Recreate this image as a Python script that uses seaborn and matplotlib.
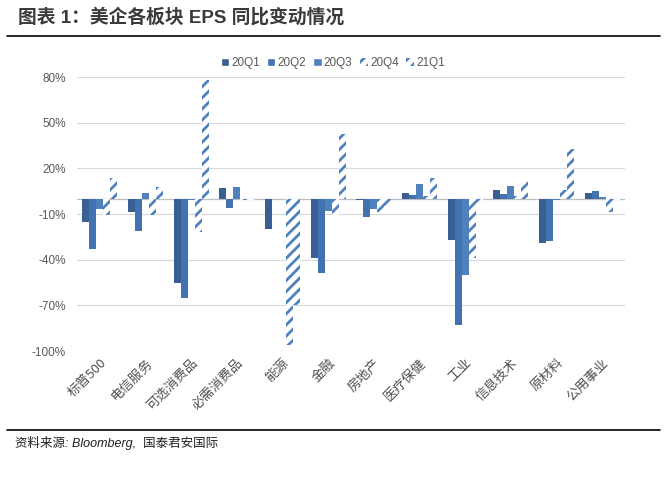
import matplotlib
matplotlib.use('Agg')
import matplotlib.pyplot as plt
import matplotlib.ticker as mtick
from matplotlib.patches import Patch
import pandas as pd
import seaborn as sns

# Данные графика
sectors = ['标普500', '电信服务', '可选消费品', '必需消费品', '能源', '金融',
           '房地产', '医疗保健', '工业', '信息技术', '原材料', '公用事业']
quarters = ['20Q1', '20Q2', '20Q3', '20Q4', '21Q1']
eps_20q1 = [-15, -9, -55, 7, -20, -39, -0.5, 4, -27, 6, -29, 4]
eps_20q2 = [-33, -21, -65, -6, 0, -49, -12, 2.5, -83, 3, -28, 5]
eps_20q3 = [-7, 4, -1, 7.5, 0, -8, -7, 10, -50, 8.5, -1, 1]
eps_20q4 = [-10.5, -10.5, -22, -1, -96, -10.5, -9, 2, -39, 2, 6, -8.5]
eps_21q1 = [13.5, 7.5, 78, -0.5, -70, 42.5, -5, 13.5, -3, 11.5, 33, -1]
y_ticks = [-100, -70, -40, -10, 20, 50, 80]

colors = ['#395F93', '#4372B0', '#4F81BD', '#4F81BD', '#4F81BD']
latin_cjk = ['Liberation Sans', 'Noto Sans CJK SC']

df = pd.DataFrame({'sector': sectors, '20Q1': eps_20q1, '20Q2': eps_20q2,
                   '20Q3': eps_20q3, '20Q4': eps_20q4, '21Q1': eps_21q1})
long_df = df.melt(id_vars='sector', var_name='quarter', value_name='eps')

sns.set_style('white')
plt.rcParams['font.family'] = ['Noto Sans CJK SC', 'DejaVu Sans']
plt.rcParams['hatch.linewidth'] = 2.0

fig = plt.figure(figsize=(6.66, 4.88), dpi=100)
ax = fig.add_axes([0.1156, 0.2807, 0.8228, 0.5615])

sns.barplot(data=long_df, x='sector', y='eps', hue='quarter', order=sectors,
            hue_order=quarters, palette=colors, width=0.77, saturation=1,
            linewidth=0, ax=ax, legend=False)

# Штриховка для 20Q4 и 21Q1
for cont, q in zip(ax.containers, quarters):
    if q in ('20Q4', '21Q1'):
        for bar in cont:
            bar.set_facecolor('white')
            bar.set_edgecolor('#4F81BD')
            bar.set_hatch('///')
            bar.set_linewidth(0)

ax.set_ylim(-100, 80)
ax.set_yticks(y_ticks)
ax.yaxis.set_major_formatter(mtick.FuncFormatter(lambda v, p: f'{v:.0f}%'))
ax.grid(axis='y', color='#D9D9D9', linewidth=0.8)
ax.set_axisbelow(True)
ax.axhline(0, color='#BFBFBF', linewidth=0.9, zorder=0.5)
for s in ax.spines.values():
    s.set_visible(False)
ax.set_xlabel('')
ax.set_ylabel('')
ax.tick_params(axis='y', labelsize=8.5, colors='#595959', length=0, pad=8)
ax.tick_params(axis='x', labelsize=9.5, colors='#505050', length=0, pad=4)
for lbl in ax.get_yticklabels():
    lbl.set_family(latin_cjk)
plt.setp(ax.get_xticklabels(), rotation=45, ha='right', rotation_mode='anchor')
ax.set_xlim(-0.5, len(sectors) - 0.5)

# Легенда
handles = [Patch(facecolor=colors[0]), Patch(facecolor=colors[1]), Patch(facecolor=colors[2]),
           Patch(facecolor='white', edgecolor='#4F81BD', hatch='///', linewidth=0),
           Patch(facecolor='white', edgecolor='#4F81BD', hatch='///', linewidth=0)]
leg = fig.legend(handles, quarters, loc='center', bbox_to_anchor=(0.5, 1 - 63 / 488), ncol=5,
                 frameon=False, fontsize=8.5, handlelength=0.7, handleheight=0.7,
                 handletextpad=0.2, columnspacing=0.6, labelcolor='#595959')
for t in leg.get_texts():
    t.set_family(latin_cjk)

# Заголовок, линии и источник
fig.text(18 / 666, 1 - 17 / 488, '图表 1：美企各板块 EPS 同比变动情况', fontsize=13.5,
         fontweight='bold', color='#3A3A3A', va='center', ha='left', family=latin_cjk)
fig.add_artist(plt.Line2D([7 / 666, 660 / 666], [1 - 36 / 488, 1 - 36 / 488],
                          color='black', linewidth=1.2))
fig.add_artist(plt.Line2D([7 / 666, 660 / 666], [1 - 430 / 488, 1 - 430 / 488],
                          color='black', linewidth=1.2))
fig.text(15 / 666, 1 - 443 / 488, '资料来源: Bloomberg,  国泰君安国际', fontsize=9,
         style='italic', color='#202020', va='center', ha='left', family=latin_cjk)

fig.savefig('out.png', dpi=100)
plt.close(fig)
